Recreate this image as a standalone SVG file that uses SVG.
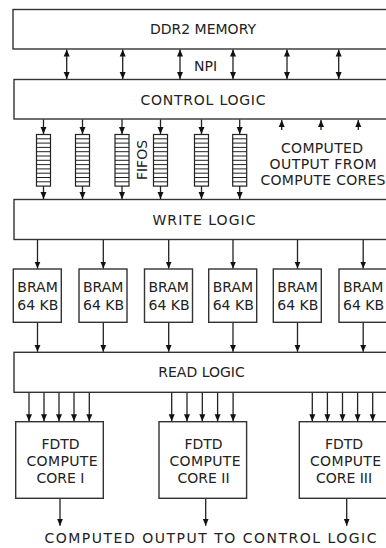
<svg xmlns="http://www.w3.org/2000/svg" width="386" height="548" viewBox="0 0 386 548">
<style>
.box{fill:#fff;stroke:#333;stroke-width:1.4}
.fifo{fill:#fff;stroke:#222;stroke-width:1.2}
.cell{stroke:#222;stroke-width:1}
.t{font-family:"DejaVu Sans",sans-serif;font-size:14px;fill:#222}
.c{text-anchor:middle}
.a{stroke:#222;stroke-width:1.3;fill:none;marker-end:url(#ah)}
.d{stroke:#222;stroke-width:1.3;fill:none;marker-end:url(#ah);marker-start:url(#as)}
</style>
<defs>
<marker id="ah" markerUnits="userSpaceOnUse" markerWidth="8" markerHeight="8" viewBox="0 0 8 8" refX="7" refY="4" orient="auto"><path d="M0,1 L7,4 L0,7 Z" fill="#111"/></marker>
<marker id="as" markerUnits="userSpaceOnUse" markerWidth="8" markerHeight="8" viewBox="0 0 8 8" refX="1" refY="4" orient="auto"><path d="M8,1 L1,4 L8,7 Z" fill="#111"/></marker>
<g id="fifocells">
<rect class="fifo" x="0" y="0" width="14" height="51.6"/>
<path class="cell" d="M0,4.3H14M0,8.6H14M0,12.9H14M0,17.2H14M0,21.5H14M0,25.8H14M0,30.1H14M0,34.4H14M0,38.7H14M0,43H14M0,47.3H14"/>
</g>
</defs>

<g id="ddr2">
<rect class="box" x="13" y="9.5" width="380" height="39.5"/>
<text class="t c" x="203" y="34">DDR2 MEMORY</text>
</g>
<g id="npi-label">
<text class="t c" x="205.5" y="71">NPI</text>
</g>
<g id="control">
<rect class="box" x="14" y="79.5" width="380" height="39.5"/>
<text class="t c" x="203" y="105" textLength="125" lengthAdjust="spacing">CONTROL LOGIC</text>
</g>
<g id="fifos">
<use href="#fifocells" x="36.5" y="134.5"/>
<use href="#fifocells" x="75.5" y="134.5"/>
<use href="#fifocells" x="115" y="134.5"/>
<use href="#fifocells" x="153.5" y="134.5"/>
<use href="#fifocells" x="194.5" y="134.5"/>
<use href="#fifocells" x="232.7" y="134.5"/>
<text class="t c" transform="translate(146.5,160) rotate(-90)" x="0" y="0">FIFOS</text>
</g>
<g id="computed-in">
<text class="t c" x="322" y="152.5" textLength="82" lengthAdjust="spacing">COMPUTED</text>
<text class="t c" x="323" y="168.5" textLength="107" lengthAdjust="spacing">OUTPUT FROM</text>
<text class="t c" x="323" y="184.5" textLength="125" lengthAdjust="spacing">COMPUTE CORES</text>
</g>
<g id="write">
<rect class="box" x="14" y="199.5" width="380" height="40"/>
<text class="t c" x="204" y="224.5" textLength="103" lengthAdjust="spacing">WRITE LOGIC</text>
</g>
<g id="bram1"><rect class="box" x="13.3" y="269" width="48" height="53.3"/><text class="t" x="17.3" y="292">BRAM</text><text class="t" x="17.3" y="309.5">64 KB</text></g>
<g id="bram2"><rect class="box" x="79" y="269" width="48" height="53.3"/><text class="t" x="83" y="292">BRAM</text><text class="t" x="83" y="309.5">64 KB</text></g>
<g id="bram3"><rect class="box" x="144.5" y="269" width="48" height="53.3"/><text class="t" x="148.5" y="292">BRAM</text><text class="t" x="148.5" y="309.5">64 KB</text></g>
<g id="bram4"><rect class="box" x="208.7" y="269" width="48" height="53.3"/><text class="t" x="212.7" y="292">BRAM</text><text class="t" x="212.7" y="309.5">64 KB</text></g>
<g id="bram5"><rect class="box" x="273.3" y="269" width="48" height="53.3"/><text class="t" x="277.3" y="292">BRAM</text><text class="t" x="277.3" y="309.5">64 KB</text></g>
<g id="bram6"><rect class="box" x="339" y="269" width="48" height="53.3"/><text class="t" x="343" y="292">BRAM</text><text class="t" x="343" y="309.5">64 KB</text></g>
<g id="read">
<rect class="box" x="14" y="352.3" width="380" height="40"/>
<text class="t c" x="201.5" y="377">READ LOGIC</text>
</g>
<g id="core1">
<rect class="box" x="15.7" y="421.7" width="87.6" height="76.6"/>
<text class="t c" x="60.5" y="448.5">FDTD</text>
<text class="t c" x="62" y="466" textLength="71" lengthAdjust="spacing">COMPUTE</text>
<text class="t c" x="60.5" y="482.5">CORE I</text>
</g>
<g id="core2">
<rect class="box" x="159" y="421.7" width="87.6" height="76.6"/>
<text class="t c" x="203.5" y="448.5">FDTD</text>
<text class="t c" x="205" y="466" textLength="71" lengthAdjust="spacing">COMPUTE</text>
<text class="t c" x="203.5" y="482.5">CORE II</text>
</g>
<g id="core3">
<rect class="box" x="299.3" y="421.7" width="90" height="76.6"/>
<text class="t c" x="344" y="448.5">FDTD</text>
<text class="t c" x="345.5" y="466" textLength="71" lengthAdjust="spacing">COMPUTE</text>
<text class="t c" x="344" y="482.5">CORE III</text>
</g>
<g id="output-label">
<text class="t c" x="210.5" y="543" textLength="332" lengthAdjust="spacing">COMPUTED OUTPUT TO CONTROL LOGIC</text>
</g>

<g id="connectors">
<line class="d" x1="66.7" y1="49.5" x2="66.7" y2="79"/>
<line class="d" x1="122.7" y1="49.5" x2="122.7" y2="79"/>
<line class="d" x1="180" y1="49.5" x2="180" y2="79"/>
<line class="d" x1="233" y1="49.5" x2="233" y2="79"/>
<line class="d" x1="287" y1="49.5" x2="287" y2="79"/>
<line class="d" x1="338.7" y1="49.5" x2="338.7" y2="79"/>

<line class="a" x1="43.5" y1="119.5" x2="43.5" y2="134"/>
<line class="a" x1="82.5" y1="119.5" x2="82.5" y2="134"/>
<line class="a" x1="122" y1="119.5" x2="122" y2="134"/>
<line class="a" x1="160.5" y1="119.5" x2="160.5" y2="134"/>
<line class="a" x1="201.5" y1="119.5" x2="201.5" y2="134"/>
<line class="a" x1="239.7" y1="119.5" x2="239.7" y2="134"/>

<line class="a" x1="43.5" y1="186.1" x2="43.5" y2="199"/>
<line class="a" x1="82.5" y1="186.1" x2="82.5" y2="199"/>
<line class="a" x1="122" y1="186.1" x2="122" y2="199"/>
<line class="a" x1="160.5" y1="186.1" x2="160.5" y2="199"/>
<line class="a" x1="201.5" y1="186.1" x2="201.5" y2="199"/>
<line class="a" x1="239.7" y1="186.1" x2="239.7" y2="199"/>

<line class="a" x1="281.7" y1="130" x2="281.7" y2="120"/>
<line class="a" x1="321" y1="130" x2="321" y2="120"/>
<line class="a" x1="358.3" y1="130" x2="358.3" y2="120"/>

<line class="a" x1="37.5" y1="240" x2="37.5" y2="268.5"/>
<line class="a" x1="103.3" y1="240" x2="103.3" y2="268.5"/>
<line class="a" x1="168.7" y1="240" x2="168.7" y2="268.5"/>
<line class="a" x1="233" y1="240" x2="233" y2="268.5"/>
<line class="a" x1="297.5" y1="240" x2="297.5" y2="268.5"/>
<line class="a" x1="363.2" y1="240" x2="363.2" y2="268.5"/>

<line class="a" x1="37.5" y1="322.8" x2="37.5" y2="351.8"/>
<line class="a" x1="103.3" y1="322.8" x2="103.3" y2="351.8"/>
<line class="a" x1="168.7" y1="322.8" x2="168.7" y2="351.8"/>
<line class="a" x1="233" y1="322.8" x2="233" y2="351.8"/>
<line class="a" x1="297.5" y1="322.8" x2="297.5" y2="351.8"/>
<line class="a" x1="363.2" y1="322.8" x2="363.2" y2="351.8"/>

<line class="a" x1="29" y1="393" x2="29" y2="421.2"/>
<line class="a" x1="44" y1="393" x2="44" y2="421.2"/>
<line class="a" x1="59" y1="393" x2="59" y2="421.2"/>
<line class="a" x1="74" y1="393" x2="74" y2="421.2"/>
<line class="a" x1="89.3" y1="393" x2="89.3" y2="421.2"/>

<line class="a" x1="171.7" y1="393" x2="171.7" y2="421.2"/>
<line class="a" x1="187" y1="393" x2="187" y2="421.2"/>
<line class="a" x1="202.3" y1="393" x2="202.3" y2="421.2"/>
<line class="a" x1="217.6" y1="393" x2="217.6" y2="421.2"/>
<line class="a" x1="233.1" y1="393" x2="233.1" y2="421.2"/>

<line class="a" x1="312.3" y1="393" x2="312.3" y2="421.2"/>
<line class="a" x1="327.4" y1="393" x2="327.4" y2="421.2"/>
<line class="a" x1="342.5" y1="393" x2="342.5" y2="421.2"/>
<line class="a" x1="357.6" y1="393" x2="357.6" y2="421.2"/>
<line class="a" x1="372.7" y1="393" x2="372.7" y2="421.2"/>

<line class="a" x1="60" y1="499" x2="60" y2="525.7"/>
<line class="a" x1="205.7" y1="499" x2="205.7" y2="525.7"/>
<line class="a" x1="346.7" y1="499" x2="346.7" y2="525.7"/>
</g>
</svg>
